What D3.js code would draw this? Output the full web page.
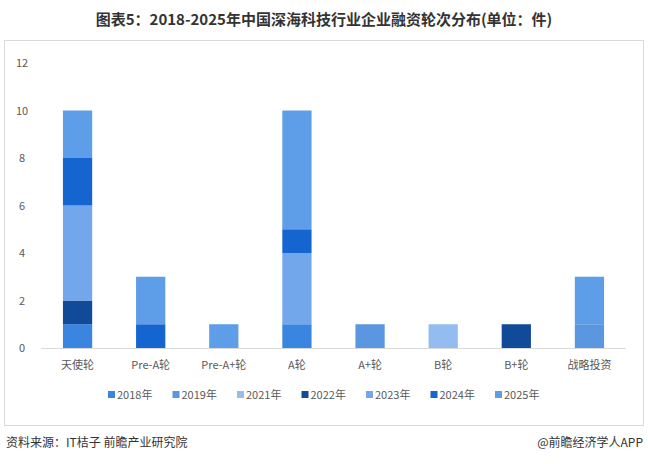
<!DOCTYPE html><html><head><meta charset="utf-8"><script src="https://cdn.jsdelivr.net/npm/d3@7"></script>
<style>body{margin:0;background:#fff;font-family:"Noto Sans CJK SC",sans-serif}</style></head><body><svg id="c" width="648" height="464"></svg><script>
const categories=["天使轮","Pre-A轮","Pre-A+轮","A轮","A+轮","B轮","B+轮","战略投资"];
const years=["2018年","2019年","2021年","2022年","2023年","2024年","2025年"];
const colors=["#3a85e0","#5b96e0","#93bcf0","#124a9a","#73a7eb","#1565d0","#5e9de8"];
const v2018=[1,0,0,1,0,0,0,0];
const v2019=[0,0,0,0,1,0,0,1];
const v2021=[0,0,0,0,0,1,0,0];
const v2022=[1,0,0,0,0,0,1,0];
const v2023=[4,0,0,3,0,0,0,0];
const v2024=[2,1,0,1,0,0,0,0];
const v2025=[2,2,1,5,0,0,0,2];
const series=[v2018,v2019,v2021,v2022,v2023,v2024,v2025];
const yTicks=[0,2,4,6,8,10,12];
const svg=d3.select("#c");
svg.append("rect").attr("x",4.5).attr("y",40.5).attr("width",639).attr("height",385).attr("fill","none").attr("stroke","#d9d9d9");
svg.append("text").attr("x",324).attr("y",25).attr("text-anchor","middle").attr("font-size",15).attr("font-weight","bold").attr("fill","#333").text("图表5：2018-2025年中国深海科技行业企业融资轮次分布(单位：件)");
const x=d3.scaleBand().domain(categories).range([41,626]).paddingInner(0.6).paddingOuter(0.3);
const y=d3.scaleLinear().domain([0,12]).range([348,63]);
const data=categories.map((c,i)=>{const o={cat:c};years.forEach((yr,j)=>o[yr]=series[j][i]);return o;});
const st=d3.stack().keys(years)(data);
st.forEach((s,j)=>svg.append("g").selectAll("rect").data(s).join("rect").attr("x",d=>x(d.data.cat)).attr("width",x.bandwidth()).attr("y",d=>y(d[1])).attr("height",d=>y(d[0])-y(d[1])).attr("fill",colors[j]));
svg.append("line").attr("x1",41).attr("x2",626).attr("y1",348.5).attr("y2",348.5).attr("stroke","#d9d9d9");
svg.append("g").selectAll("text").data(yTicks).join("text").attr("x",22).attr("y",d=>y(d)+4).attr("text-anchor","middle").attr("font-size",11).attr("fill","#595959").text(d=>d);
svg.append("g").selectAll("text").data(categories).join("text").attr("x",d=>x(d)+x.bandwidth()/2).attr("y",369).attr("text-anchor","middle").attr("font-size",11).attr("fill","#595959").text(d=>d);
const lg=svg.append("g");let lx=108;
years.forEach((yr,j)=>{lg.append("rect").attr("x",lx).attr("y",391).attr("width",7).attr("height",7).attr("fill",colors[j]);lg.append("text").attr("x",lx+9).attr("y",399).attr("font-size",11).attr("fill","#595959").text(yr);lx+=64.5;});
svg.append("text").attr("x",6).attr("y",447).attr("font-size",12).attr("fill","#333").text("资料来源：IT桔子 前瞻产业研究院");
svg.append("text").attr("x",643).attr("y",447).attr("text-anchor","end").attr("font-size",12).attr("fill","#333").text("@前瞻经济学人APP");
</script></body></html>
